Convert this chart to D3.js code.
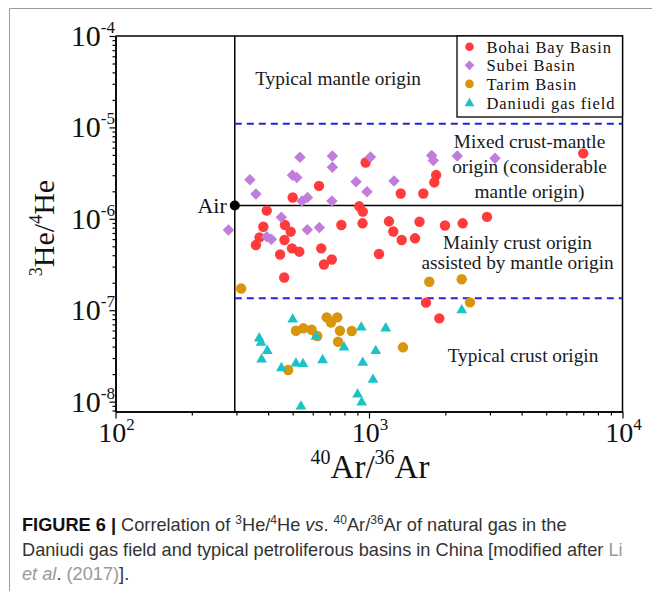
<!DOCTYPE html>
<html><head><meta charset="utf-8">
<script src="https://cdn.jsdelivr.net/npm/d3@7"></script>
<style>
body{margin:0;background:#fff;}
svg{display:block;}
</style></head><body>
<svg id="c" width="652" height="591"></svg>
<script>
// ---- data (40Ar/36Ar, 3He/4He) ----
const bohai = [[7000,5.2e-6],[970,4.13e-6],[1840,3.01e-6],[1810,2.5e-6],[635,2.29e-6],[1334,1.89e-6],[1638,1.89e-6],[500,1.71e-6],[395,1.23e-6],[915,1.37e-6],[945,1.2e-6],[943,8.93e-7],[778,8.56e-7],[1199,9.39e-7],[1582,9.29e-7],[1994,8.45e-7],[2342,8.93e-7],[2921,1.05e-6],[1247,7.26e-7],[1346,5.86e-7],[1519,6.12e-7],[1095,4.12e-7],[383,8.19e-7],[370,6.27e-7],[358,5.17e-7],[466,8.56e-7],[491,7.23e-7],[464,5.86e-7],[497,4.75e-7],[531,4.37e-7],[446,4.07e-7],[648,4.75e-7],[664,3.16e-7],[713,3.59e-7],[463,2.28e-7],[1678,1.21e-7],[1894,8.15e-8]];
const subei = [[534,4.71e-6],[717,4.86e-6],[717,3.66e-6],[1014,4.74e-6],[339,2.68e-6],[499,2.99e-6],[519,2.83e-6],[889,2.55e-6],[1255,2.59e-6],[358,1.87e-6],[982,1.98e-6],[544,1.57e-6],[572,1.71e-6],[714,1.57e-6],[279,7.54e-7],[451,1.04e-6],[395,6.37e-7],[412,5.98e-7],[571,7.6e-7],[637,8.03e-7],[1767,4.93e-6],[1793,4.34e-6],[2230,4.86e-6],[3141,4.59e-6]];
const tarim = [[313,1.73e-7],[681,8.36e-8],[708,7.34e-8],[750,8.36e-8],[515,5.97e-8],[551,6.34e-8],[594,6.12e-8],[625,5.22e-8],[768,5.97e-8],[855,5.92e-8],[755,4.52e-8],[1362,3.93e-8],[480,2.22e-8],[1729,2.05e-7],[2321,2.18e-7],[2502,1.22e-7]];
const daniudi = [[500,7.95e-8],[369,4.93e-8],[375,4.41e-8],[397,3.6e-8],[377,2.9e-8],[451,2.33e-8],[515,2.62e-8],[549,2.58e-8],[618,5.13e-8],[656,2.85e-8],[797,3.93e-8],[932,6.47e-8],[1164,6.34e-8],[1063,3.58e-8],[945,2.67e-8],[1037,1.74e-8],[901,1.2e-8],[936,9.82e-9],[539,8.88e-9],[2321,1.0e-7]];

const seriesNames = ["Bohai Bay Basin","Subei Basin","Tarim Basin","Daniudi gas field"];
const xTickExp = [2,3,4];
const yTickExp = [-4,-5,-6,-7,-8];
const air = [295.5, 1.4e-6];
const mantleLimit = 1.1e-5;
const crustLimit = 1.35e-7;
const regionLabels = [
  {lines:["Typical mantle origin"], at:[755, 2.91e-5], gap:0},
  {lines:["Mixed crust-mantle","origin (considerable","mantle origin)"], at:[4297, 5.95e-6], gap:25},
  {lines:["Mainly crust origin","assisted by mantle origin"], at:[3853, 4.67e-7], gap:20},
  {lines:["Typical crust origin"], at:[4051, 2.71e-8], gap:0}
];

// ---- scales ----
const x = d3.scaleLog().domain([100,10000]).range([115.5,622.5]);
const y = d3.scaleLog().domain([7.8e-9,1e-4]).range([411.5,36]);

const svg = d3.select("#c");
const serif = "'Liberation Serif','Times New Roman',serif";
const sans = "'Liberation Sans',Arial,Helvetica,sans-serif";

// figure frame
svg.append("path").attr("d","M9.5,591 V8.5 H652").attr("fill","none").attr("stroke","#9a9a9a").attr("stroke-width",1);

const colors = ["#ff3b3b","#c27ddc","#d9950c","#1bc3c7"];
const symDiamond = d3.symbol().type(d3.symbolSquare).size(66);
const symTri = d3.symbol().type(d3.symbolTriangle).size(50);

function minorVals(lo, hi){ const v=[]; for(let e=lo;e<hi;e++){ for(let k=2;k<=9;k++) v.push(k*Math.pow(10,e)); } return v; }

// axes
const gx = svg.append("g").attr("transform","translate(0,411.5)");
gx.call(d3.axisBottom(x).tickValues(xTickExp.map(e=>Math.pow(10,e))).tickFormat("").tickSize(7).tickSizeOuter(0));
gx.append("g").call(d3.axisBottom(x).tickValues(minorVals(2,4)).tickFormat("").tickSize(4).tickSizeOuter(0));
const gy = svg.append("g").attr("transform","translate(115.5,0)");
gy.call(d3.axisLeft(y).tickValues(yTickExp.map(e=>Math.pow(10,e))).tickFormat("").tickSize(6).tickSizeOuter(0));
gy.append("g").call(d3.axisLeft(y).tickValues(minorVals(-9,-4).filter(v=>v>=7.8e-9)).tickFormat("").tickSize(3).tickSizeOuter(0));
svg.selectAll(".domain").attr("stroke","#000").attr("stroke-width",1.5);
svg.selectAll(".tick line").attr("stroke","#000").attr("stroke-width",1.2);

// plot frame (top/right)
svg.append("path").attr("d",`M${x(100)},${y(1e-4)} H${x(1e4)} V${y(7.8e-9)}`).attr("fill","none").attr("stroke","#000").attr("stroke-width",1.5);

// tick labels
xTickExp.forEach(e=>{
  const t = svg.append("text").attr("x",x(Math.pow(10,e))+1).attr("y",442).attr("text-anchor","middle")
    .attr("font-family",serif).attr("font-size",28).attr("fill","#111");
  t.append("tspan").text("10");
  t.append("tspan").attr("dy",-12).attr("font-size",17).text(e);
});
yTickExp.forEach(e=>{
  const t = svg.append("text").attr("x",115).attr("y",y(Math.pow(10,e))+10).attr("text-anchor","end")
    .attr("font-family",serif).attr("font-size",30).attr("fill","#111");
  t.append("tspan").text("10");
  t.append("tspan").attr("dy",-13).attr("font-size",17).text(e);
});

// axis titles
const xt = svg.append("text").attr("x",370).attr("y",478).attr("text-anchor","middle")
  .attr("font-family",serif).attr("font-size",33).attr("fill","#111");
xt.append("tspan").attr("font-size",20).attr("dy",-14).text("40");
xt.append("tspan").attr("dy",14).text("Ar/");
xt.append("tspan").attr("font-size",20).attr("dy",-14).text("36");
xt.append("tspan").attr("dy",14).text("Ar");

const yt = svg.append("text").attr("transform","translate(54,228) rotate(-90)").attr("text-anchor","middle")
  .attr("font-family",serif).attr("font-size",30).attr("fill","#111");
yt.append("tspan").attr("font-size",18).attr("dy",-12).text("3");
yt.append("tspan").attr("dy",12).text("He/");
yt.append("tspan").attr("font-size",18).attr("dy",-12).text("4");
yt.append("tspan").attr("dy",12).text("He");

// reference lines
svg.append("line").attr("x1",x(air[0])).attr("x2",x(air[0])).attr("y1",y(1e-4)).attr("y2",y(7.8e-9)).attr("stroke","#000").attr("stroke-width",1.5);
svg.append("line").attr("x1",x(air[0])).attr("x2",x(1e4)).attr("y1",y(air[1])).attr("y2",y(air[1])).attr("stroke","#000").attr("stroke-width",1.5);
[mantleLimit, crustLimit].forEach(v=>{
  svg.append("line").attr("x1",x(air[0])).attr("x2",x(1e4)).attr("y1",y(v)).attr("y2",y(v))
    .attr("stroke","#2323e0").attr("stroke-width",2).attr("stroke-dasharray","7,5");
});

// region labels
regionLabels.forEach(r=>{
  r.lines.forEach((ln,i)=>{
    svg.append("text").attr("x",x(r.at[0])).attr("y",y(r.at[1])+i*r.gap).attr("text-anchor","middle")
      .attr("font-family",serif).attr("font-size",19.3).attr("fill","#1a1a1a").text(ln);
  });
});

// Air point
svg.append("circle").attr("cx",x(air[0])).attr("cy",y(air[1])).attr("r",5).attr("fill","#000");
svg.append("text").attr("x",x(air[0])-8).attr("y",y(air[1])+8).attr("text-anchor","end")
  .attr("font-family",serif).attr("font-size",22).attr("fill","#111").text("Air");

// points
const pts = svg.append("g");
pts.selectAll(".b").data(bohai).join("circle").attr("cx",d=>x(d[0])).attr("cy",d=>y(d[1])).attr("r",5.2).attr("fill",colors[0]);
pts.selectAll(".s").data(subei).join("path").attr("d",symDiamond)
  .attr("transform",d=>`translate(${x(d[0])},${y(d[1])}) rotate(45)`).attr("fill",colors[1]);
pts.selectAll(".t").data(tarim).join("circle").attr("cx",d=>x(d[0])).attr("cy",d=>y(d[1])).attr("r",5.2).attr("fill",colors[2]);
pts.selectAll(".d").data(daniudi).join("path").attr("d",symTri)
  .attr("transform",d=>`translate(${x(d[0])},${y(d[1])})`).attr("fill",colors[3]);

// legend
const lg = svg.append("g");
lg.append("rect").attr("x",457).attr("y",y(1e-4)).attr("width",x(1e4)-457).attr("height",117-y(1e-4))
  .attr("fill","#fff").attr("stroke","#000").attr("stroke-width",1.3);
seriesNames.forEach((n,i)=>{
  const cy = 46.7 + i*18.6;
  if(i===0||i===2) lg.append("circle").attr("cx",469.5).attr("cy",cy).attr("r",4.3).attr("fill",colors[i]);
  else if(i===1) lg.append("path").attr("d",d3.symbol().type(d3.symbolSquare).size(48)).attr("transform",`translate(469.5,${cy}) rotate(45)`).attr("fill",colors[i]);
  else lg.append("path").attr("d",d3.symbol().type(d3.symbolTriangle).size(42)).attr("transform",`translate(469.5,${cy+1})`).attr("fill",colors[i]);
  lg.append("text").attr("x",486.5).attr("y",cy+6).attr("font-family",serif).attr("font-size",16.5)
    .attr("letter-spacing",0.9).attr("fill","#111").text(n);
});

// caption
const cap = svg.append("g").attr("font-family",sans).attr("font-size",18.2).attr("fill","#333");
const l1 = cap.append("text").attr("x",22).attr("y",531);
l1.append("tspan").attr("font-weight","bold").attr("fill","#111").text("FIGURE 6 | ");
l1.append("tspan").text("Correlation of ");
l1.append("tspan").attr("font-size",12).attr("dy",-7).text("3");
l1.append("tspan").attr("dy",7).text("He/");
l1.append("tspan").attr("font-size",12).attr("dy",-7).text("4");
l1.append("tspan").attr("dy",7).text("He ");
l1.append("tspan").attr("font-style","italic").text("vs");
l1.append("tspan").text(". ");
l1.append("tspan").attr("font-size",12).attr("dy",-7).text("40");
l1.append("tspan").attr("dy",7).text("Ar/");
l1.append("tspan").attr("font-size",12).attr("dy",-7).text("36");
l1.append("tspan").attr("dy",7).text("Ar of natural gas in the");
const l2 = cap.append("text").attr("x",22).attr("y",556);
l2.append("tspan").text("Daniudi gas field and typical petroliferous basins in China [modified after ");
l2.append("tspan").attr("fill","#999").text("Li");
const l3 = cap.append("text").attr("x",22).attr("y",580);
l3.append("tspan").attr("fill","#999").attr("font-style","italic").text("et al");
l3.append("tspan").text(". ");
l3.append("tspan").attr("fill","#999").text("(2017)");
l3.append("tspan").text("].");
</script>
</body></html>
